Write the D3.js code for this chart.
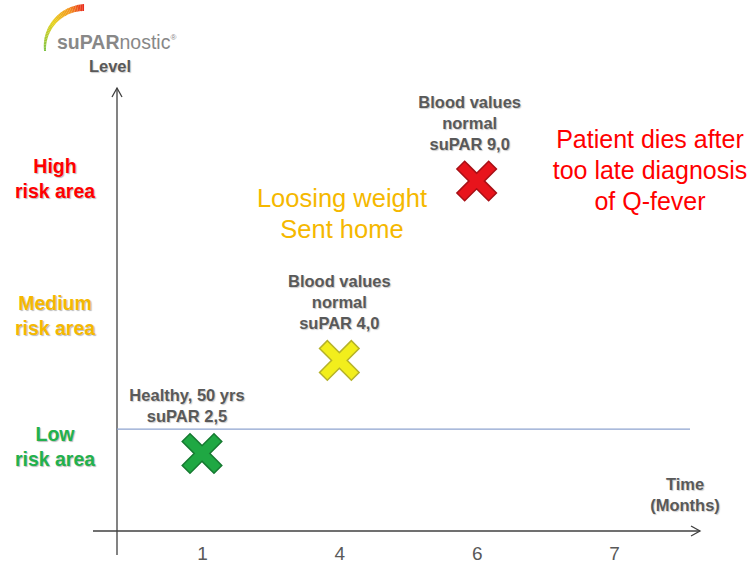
<!DOCTYPE html>
<html>
<head>
<meta charset="utf-8">
<script src="https://cdn.jsdelivr.net/npm/d3@7"></script>
<style>
  body { margin: 0; background: #fff; }
  svg { font-family: "Liberation Sans", Arial, sans-serif; }
  .lbl { fill: #595959; font-weight: bold; font-size: 16.5px; text-shadow: 1px 1px 1px #ccc; }
  .risk { font-weight: bold; font-size: 19.5px; text-shadow: 1px 1px 1px #bbb; }
</style>
</head>
<body>
<div id="viz-chart"></div>
<script>
// months on the time axis
const months = ["1", "4", "6", "7"];
// patient events
const eventMonths = ["1", "4", "6"];
const eventLevels = [1.75, 3.85, 7.9];
const eventColors = ["#1fa843", "#f2ee1c", "#e8141c"];
const eventEdges = ["#167a31", "#b5b22a", "#a81016"];
const eventLabels = [
  ["Healthy, 50 yrs", "suPAR 2,5"],
  ["Blood values", "normal", "suPAR 4,0"],
  ["Blood values", "normal", "suPAR 9,0"]
];
// risk bands
const riskLevels = [7.97, 4.87, 1.92];
const riskLabels = [["High", "risk area"], ["Medium", "risk area"], ["Low", "risk area"]];
const riskColors = ["#ff0000", "#f5b800", "#22b14c"];
const lowLimit = 2.3;

const svg = d3.select("#viz-chart")
  .append("svg")
  .attr("width", 753)
  .attr("height", 581);

const x = d3.scalePoint().domain(months).range([202, 614]);
const y = d3.scaleLinear().domain([0, 10]).range([531, 88]);

const axisColor = "#404040";

// logo arc, tapered, green to red
const arcG = svg.append("g").attr("transform", "translate(84,49)");
const nSeg = 40;
const colorScale = d3.scaleLinear().domain([0, 0.45, 0.75, 1])
  .range(["#7cc242", "#e6d21c", "#f39a1e", "#e8221c"]);
for (let i = 0; i < nSeg; i++) {
  const t = i / nSeg;
  const a0 = -Math.PI / 2 - 0.05 + t * 1.62;
  const a1 = a0 + 1.7 / nSeg;
  arcG.append("path")
    .attr("d", d3.arc()({ innerRadius: 38, outerRadius: 40 + t * 5, startAngle: a0, endAngle: a1 }))
    .attr("fill", colorScale(t));
}
const logo = svg.append("text").attr("x", 57).attr("y", 49).attr("font-size", 19.5).attr("fill", "#888");
logo.append("tspan").attr("font-weight", "bold").text("suPAR");
logo.append("tspan").text("nostic");
logo.append("tspan").attr("font-size", 8).attr("dy", -9).text("®");

svg.append("text").attr("class", "lbl").attr("x", 110).attr("y", 72)
  .attr("text-anchor", "middle").text("Level");

// axes
svg.append("line").attr("x1", 117).attr("x2", 117).attr("y1", y(10)).attr("y2", 555)
  .attr("stroke", axisColor).attr("stroke-width", 1.3);
svg.append("path").attr("d", `M112,${y(10) + 9}L117,${y(10)}L122,${y(10) + 9}`)
  .attr("fill", "none").attr("stroke", axisColor).attr("stroke-width", 1.3);
svg.append("line").attr("x1", 93).attr("x2", 700).attr("y1", y(0)).attr("y2", y(0))
  .attr("stroke", axisColor).attr("stroke-width", 1.3);
svg.append("path").attr("d", `M691,${y(0) - 5}L700,${y(0)}L691,${y(0) + 5}`)
  .attr("fill", "none").attr("stroke", axisColor).attr("stroke-width", 1.3);

const xAxis = svg.append("g").attr("transform", "translate(0,546)")
  .call(d3.axisBottom(x).tickSize(0).tickPadding(0));
xAxis.select(".domain").remove();
xAxis.selectAll("text").attr("font-size", 19).attr("fill", "#595959")
  .attr("font-family", "Liberation Sans, Arial, sans-serif");

// low risk threshold
svg.append("line").attr("x1", 117).attr("x2", 690).attr("y1", y(lowLimit)).attr("y2", y(lowLimit))
  .attr("stroke", "#8ea3cf").attr("stroke-width", 1.3);

// axis titles
svg.append("text").attr("class", "lbl").attr("text-anchor", "middle")
  .selectAll("tspan").data(["Time", "(Months)"]).join("tspan")
  .attr("x", 685).attr("y", (d, i) => 490 + i * 21).text((d) => d);

// risk labels
riskLabels.forEach((lines, k) => {
  svg.append("text").attr("class", "risk").attr("text-anchor", "middle")
    .attr("fill", riskColors[k])
    .selectAll("tspan").data(lines).join("tspan")
    .attr("x", 55).attr("y", (d, i) => y(riskLevels[k]) - 5 + i * 25).text((d) => d);
});

// event markers
const crossPath = (s) => `M${-s},${-s}L${s},${s}M${-s},${s}L${s},${-s}`;
eventMonths.forEach((m, k) => {
  const g = svg.append("g").attr("transform", `translate(${x(m)},${y(eventLevels[k])})`);
  g.append("path").attr("d", crossPath(12)).attr("stroke", eventEdges[k])
    .attr("stroke-width", 12.5).attr("stroke-linecap", "square");
  g.append("path").attr("d", crossPath(12)).attr("stroke", eventColors[k])
    .attr("stroke-width", 9.5).attr("stroke-linecap", "square");
});

// event labels
const labelDx = [-15, 0, -7];
eventLabels.forEach((lines, k) => {
  const cx = x(eventMonths[k]) + labelDx[k];
  const top = y(eventLevels[k]) - 16 - lines.length * 21;
  svg.append("text").attr("class", "lbl").attr("text-anchor", "middle")
    .selectAll("tspan").data(lines).join("tspan")
    .attr("x", cx).attr("y", (d, i) => top + 6 + i * 21).text((d) => d);
});

// annotations
svg.append("text").attr("font-size", 25.5).attr("text-anchor", "middle").attr("fill", "#f5b800")
  .selectAll("tspan").data(["Loosing weight", "Sent home"]).join("tspan")
  .attr("x", 342).attr("y", (d, i) => 207 + i * 31).text((d) => d);
svg.append("text").attr("font-size", 25).attr("text-anchor", "middle").attr("fill", "#ff0000")
  .selectAll("tspan").data(["Patient dies after", "too late diagnosis", "of Q-fever"]).join("tspan")
  .attr("x", 650).attr("y", (d, i) => 148 + i * 31).text((d) => d);
</script>
</body>
</html>
